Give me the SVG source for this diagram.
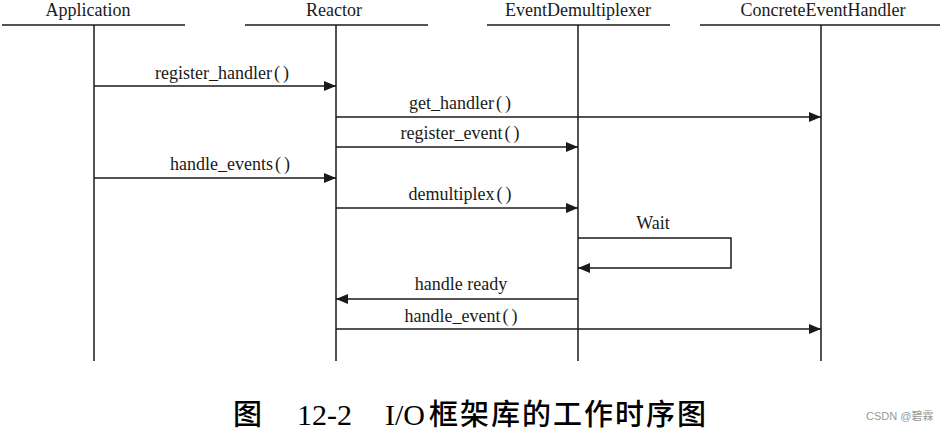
<svg xmlns="http://www.w3.org/2000/svg" width="946" height="432" viewBox="0 0 946 432">
<defs>
<marker id="ah" viewBox="0 0 12 10" refX="12" refY="5" markerWidth="12" markerHeight="10" markerUnits="userSpaceOnUse" orient="auto">
<path d="M0,0 L12,5 L0,10 z" fill="#1a1a1a"/>
</marker>
<style>
.t{font-family:"Liberation Serif","Noto Sans CJK SC",serif;font-size:18px;fill:#1a1a1a;text-anchor:middle}
.hd{stroke:#1a1a1a;stroke-width:1.5}
.ll{stroke:#1a1a1a;stroke-width:1.5}
.m{stroke:#1a1a1a;stroke-width:1.5;fill:none}
.a{marker-end:url(#ah)}
.cap{font-family:"Liberation Serif","Noto Sans CJK SC",serif;font-size:30px;fill:#000}
.cn{font-family:"Noto Sans CJK SC",sans-serif;font-weight:500;font-size:29px;letter-spacing:2px}
.wm{font-family:"Liberation Sans","Noto Sans CJK SC",sans-serif;font-size:11px;fill:#999}
</style>
</defs>
<rect width="946" height="432" fill="#fff"/>
<g id="application">
<text class="t" x="88" y="16">Application</text>
<line class="hd" x1="2" y1="25" x2="185" y2="25"/>
<line class="ll" x1="94" y1="25" x2="94" y2="361"/>
</g>
<g id="reactor">
<text class="t" x="334" y="16">Reactor</text>
<line class="hd" x1="245" y1="25" x2="428" y2="25"/>
<line class="ll" x1="336" y1="25" x2="336" y2="361"/>
</g>
<g id="eventdemultiplexer">
<text class="t" x="578" y="16">EventDemultiplexer</text>
<line class="hd" x1="487" y1="25" x2="670" y2="25"/>
<line class="ll" x1="578" y1="25" x2="578" y2="361"/>
</g>
<g id="concreteeventhandler">
<text class="t" x="823" y="16">ConcreteEventHandler</text>
<line class="hd" x1="700" y1="25" x2="940" y2="25"/>
<line class="ll" x1="821" y1="25" x2="821" y2="361"/>
</g>
<g id="connectors">
<line class="m a" x1="94" y1="86" x2="336" y2="86"/>
<text class="t" x="222" y="79">register_handler<tspan dx="2">(</tspan><tspan dx="3">)</tspan></text>
<line class="m a" x1="336" y1="117" x2="821" y2="117"/>
<text class="t" x="460" y="109">get_handler<tspan dx="2">(</tspan><tspan dx="3">)</tspan></text>
<line class="m a" x1="336" y1="147" x2="578" y2="147"/>
<text class="t" x="460" y="139">register_event<tspan dx="2">(</tspan><tspan dx="3">)</tspan></text>
<line class="m a" x1="94" y1="178" x2="336" y2="178"/>
<text class="t" x="230" y="170">handle_events<tspan dx="2">(</tspan><tspan dx="3">)</tspan></text>
<line class="m a" x1="336" y1="208" x2="578" y2="208"/>
<text class="t" x="460" y="200">demultiplex<tspan dx="2">(</tspan><tspan dx="3">)</tspan></text>
<polyline class="m a" points="578,238 731,238 731,268 578,268"/>
<text class="t" x="653" y="229">Wait</text>
<line class="m a" x1="578" y1="299" x2="336" y2="299"/>
<text class="t" x="461" y="290">handle ready</text>
<line class="m a" x1="336" y1="329" x2="821" y2="329"/>
<text class="t" x="461" y="322">handle_event<tspan dx="2">(</tspan><tspan dx="3">)</tspan></text>
</g>
<text class="cap" x="233" y="425"><tspan class="cn">图</tspan><tspan x="297">12-2</tspan><tspan x="385">I/O</tspan><tspan class="cn" x="429">框架库的工作时序图</tspan></text>
<text class="wm" x="866" y="420">CSDN @碧霖</text>
</svg>
